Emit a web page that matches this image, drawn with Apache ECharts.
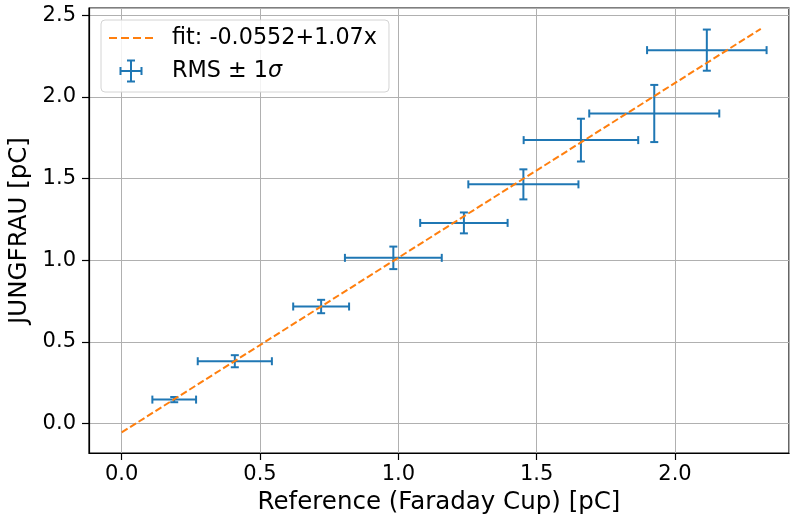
<!DOCTYPE html>
<html>
<head>
<meta charset="utf-8">
<script src="https://cdn.jsdelivr.net/npm/echarts@6/dist/echarts.min.js"></script>
<style>
html,body{margin:0;padding:0;background:#fff;}
#chart{width:791px;height:518px;}
</style>
</head>
<body>
<div id="chart"></div>
<script>
// Data
const refX = [0.190, 0.409, 0.721, 0.982, 1.237, 1.452, 1.660, 1.925, 2.115];
const jfY  = [0.146, 0.381, 0.716, 1.014, 1.228, 1.464, 1.735, 1.898, 2.286];
const refXErr = [0.079, 0.134, 0.101, 0.175, 0.158, 0.199, 0.207, 0.235, 0.216];
const jfYErr  = [0.016, 0.037, 0.041, 0.069, 0.064, 0.092, 0.131, 0.175, 0.126];
const fitX = [0, 2.31];
const fitY = [-0.0552, 2.4165];
const fitName = 'fit: -0.0552+1.07x';
const errName = 'RMS ± 1σ';
const xTitle = 'Reference (Faraday Cup) [pC]';
const yTitle = 'JUNGFRAU [pC]';

const errData = refX.map((x, i) => [x, jfY[i], refXErr[i], jfYErr[i]]);
const fitData = fitX.map((x, i) => [x, fitY[i]]);

const FONT = 'DejaVu Sans';
const BLUE = '#1f77b4';
const ORANGE = '#ff7f0e';

function renderErr(params, api) {
  const x = api.value(0), y = api.value(1), ex = api.value(2), ey = api.value(3);
  const l = api.coord([x - ex, y]);
  const r = api.coord([x + ex, y]);
  const t = api.coord([x, y + ey]);
  const b = api.coord([x, y - ey]);
  const cap = 4;
  const st = {stroke: BLUE, lineWidth: 2, fill: null};
  const ln = (x1, y1, x2, y2) => ({type: 'line', shape: {x1, y1, x2, y2}, style: st});
  return {
    type: 'group',
    children: [
      ln(l[0], l[1], r[0], r[1]),
      ln(t[0], t[1], b[0], b[1]),
      ln(l[0], l[1] - cap, l[0], l[1] + cap),
      ln(r[0], r[1] - cap, r[0], r[1] + cap),
      ln(t[0] - cap, t[1], t[0] + cap, t[1]),
      ln(b[0] - cap, b[1], b[0] + cap, b[1])
    ]
  };
}

const corners = 'M0,0L0.01,0L0,0.01Z M44,28L43.99,28L44,27.99Z ';
const errIcon = 'path://' + corners +
  'M10.5,13L33.5,13L33.5,15L10.5,15Z ' +
  'M21,2.5L23,2.5L23,25.5L21,25.5Z ' +
  'M10.5,10L12.5,10L12.5,18L10.5,18Z ' +
  'M31.5,10L33.5,10L33.5,18L31.5,18Z ' +
  'M18,2.5L26,2.5L26,4.5L18,4.5Z ' +
  'M18,23.5L26,23.5L26,25.5L18,25.5Z';
const fitIcon = 'path://' + corners +
  'M0,13L8,13L8,15L0,15Z M12,13L20,13L20,15L12,15Z ' +
  'M24,13L32,13L32,15L24,15Z M36,13L44,13L44,15L36,15Z';

const axisCommon = {
  type: 'value',
  splitNumber: 5,
  nameLocation: 'middle',
  nameTextStyle: {fontFamily: FONT, fontSize: 24.5, color: '#000'},
  axisLine: {show: true, onZero: false, lineStyle: {color: '#000', width: 1.2}},
  axisTick: {show: true, length: 7, inside: false, lineStyle: {color: '#000', width: 1.2}},
  splitLine: {show: true, lineStyle: {color: '#b0b0b0', width: 1}}
};

const chart = echarts.init(document.getElementById('chart'), null, {renderer: 'canvas'});
chart.setOption({
  animation: false,
  backgroundColor: '#fff',
  grid: {
    left: 89, right: 2, top: 8, bottom: 65,
    containLabel: false,
    outerBoundsMode: 'none',
    show: true, borderColor: '#000', borderWidth: 1.2, backgroundColor: 'transparent'
  },
  xAxis: Object.assign({}, axisCommon, {
    min: -0.118, max: 2.412,
    name: xTitle,
    nameGap: 35,
    axisLabel: {
      show: true, margin: 11, fontFamily: FONT, fontSize: 21, color: '#000',
      showMinLabel: false, showMaxLabel: false,
      formatter: v => v.toFixed(1)
    }
  }),
  yAxis: Object.assign({}, axisCommon, {
    min: -0.181, max: 2.544,
    name: yTitle,
    nameGap: 48,
    nameRotate: 90,
    axisLabel: {
      show: true, margin: 13, fontFamily: FONT, fontSize: 21, color: '#000',
      showMinLabel: false, showMaxLabel: false,
      formatter: v => v.toFixed(1)
    }
  }),
  legend: {
    left: 101, top: 20,
    orient: 'vertical',
    itemWidth: 44, itemHeight: 28, itemGap: 5,
    padding: [4, 12, 7, 8],
    backgroundColor: 'rgba(255,255,255,0.85)',
    borderColor: '#d4d4d4', borderWidth: 1, borderRadius: 4,
    textStyle: {
      fontFamily: FONT, fontSize: 22.3, color: '#000', padding: [0, 0, 0, 14],
      rich: {i: {fontFamily: FONT, fontSize: 22.3, fontStyle: 'italic', color: '#000'}}
    },
    formatter: name => name === errName ? 'RMS ± 1{i|σ}' : name,
    data: [
      {name: fitName, icon: fitIcon, itemStyle: {color: ORANGE}},
      {name: errName, icon: errIcon, itemStyle: {color: BLUE}}
    ]
  },
  series: [
    {
      name: errName,
      type: 'custom',
      renderItem: renderErr,
      encode: {x: 0, y: 1},
      dimensions: ['x', 'y', 'xerr', 'yerr'],
      itemStyle: {color: BLUE},
      data: errData,
      z: 2
    },
    {
      name: fitName,
      type: 'line',
      data: fitData,
      symbol: 'none',
      showSymbol: false,
      silent: true,
      itemStyle: {color: ORANGE},
      lineStyle: {color: ORANGE, width: 2, type: [7, 3]},
      z: 3
    }
  ]
});
</script>
</body>
</html>
